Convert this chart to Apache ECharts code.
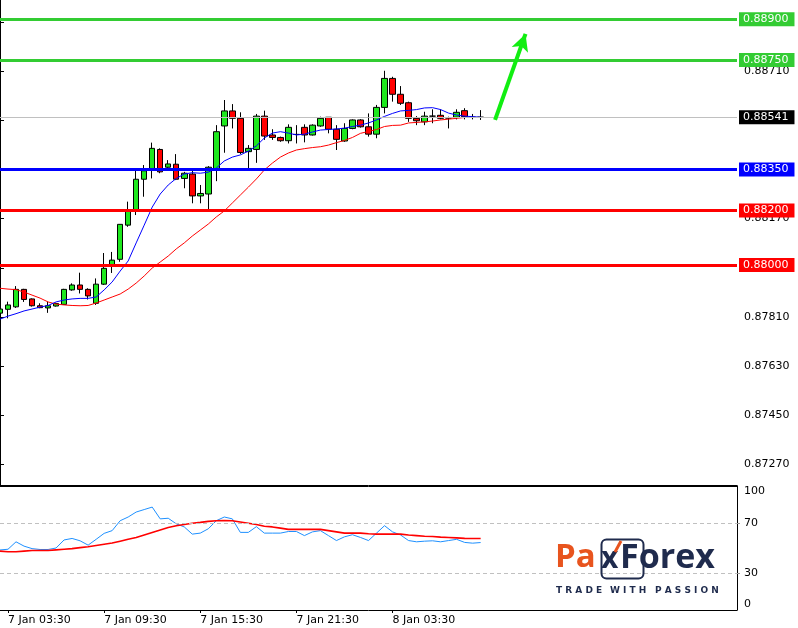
<!DOCTYPE html>
<html><head><meta charset="utf-8">
<script src="https://cdn.jsdelivr.net/npm/echarts@6/dist/echarts.min.js"></script>
<style>html,body{margin:0;padding:0;background:#fff}#c{width:798px;height:628px}</style>
</head><body><div id="c"></div>
<script>
// ---- data ----
const opens  = [0.87824,0.87838,0.87847,0.87911,0.87876,0.87851,0.87843,0.87850,0.87856,0.87909,0.87927,0.87911,0.87860,0.87930,0.87996,0.88021,0.88146,0.88201,0.88314,0.88348,0.88423,0.88358,0.88369,0.88317,0.88333,0.88253,0.88260,0.88348,0.88509,0.88564,0.88537,0.88415,0.88423,0.88545,0.88476,0.88467,0.88455,0.88478,0.88504,0.88476,0.88509,0.88541,0.88497,0.88454,0.88500,0.88531,0.88506,0.88479,0.88577,0.88683,0.88625,0.88594,0.88537,0.88524,0.88545,0.88548,0.88538,0.88541,0.88565,0.88541,0.88541];
const closes = [0.87839,0.87854,0.87911,0.87874,0.87851,0.87844,0.87851,0.87859,0.87911,0.87927,0.87911,0.87887,0.87930,0.87988,0.88018,0.88149,0.88198,0.88314,0.88345,0.88427,0.88341,0.88370,0.88314,0.88336,0.88253,0.88262,0.88358,0.88488,0.88564,0.88537,0.88412,0.88427,0.88545,0.88472,0.88467,0.88455,0.88504,0.88478,0.88476,0.88512,0.88537,0.88497,0.88460,0.88500,0.88531,0.88506,0.88479,0.88577,0.88683,0.88625,0.88592,0.88537,0.88528,0.88545,0.88545,0.88537,0.88538,0.88559,0.88543,0.88541,0.88541];
const lows   = [0.87813,0.87805,0.87843,0.87865,0.87848,0.87842,0.87825,0.87848,0.87854,0.87906,0.87896,0.87874,0.87854,0.87927,0.87971,0.88012,0.88140,0.88183,0.88250,0.88317,0.88336,0.88348,0.88311,0.88281,0.88226,0.88226,0.88201,0.88307,0.88411,0.88500,0.88406,0.88354,0.88374,0.88458,0.88458,0.88451,0.88445,0.88445,0.88449,0.88474,0.88506,0.88482,0.88421,0.88451,0.88497,0.88503,0.88470,0.88464,0.88555,0.88598,0.88586,0.88524,0.88512,0.88512,0.88519,0.88533,0.88500,0.88533,0.88533,0.88533,0.88531];
const highs  = [0.87850,0.87866,0.87923,0.87913,0.87878,0.87860,0.87866,0.87862,0.87913,0.87933,0.87972,0.87915,0.87951,0.88044,0.88048,0.88150,0.88232,0.88348,0.88366,0.88448,0.88427,0.88384,0.88406,0.88341,0.88348,0.88293,0.88362,0.88512,0.88604,0.88589,0.88559,0.88439,0.88553,0.88565,0.88497,0.88470,0.88515,0.88512,0.88515,0.88515,0.88543,0.88541,0.88512,0.88519,0.88533,0.88534,0.88555,0.88586,0.88711,0.88689,0.88655,0.88598,0.88545,0.88561,0.88570,0.88570,0.88543,0.88570,0.88574,0.88553,0.88567];
const maFast = [0.87802,0.87813,0.87822,0.87832,0.87839,0.87846,0.87852,0.87865,0.87872,0.87876,0.87878,0.87878,0.87883,0.87909,0.87938,0.87978,0.88015,0.88081,0.88146,0.88212,0.88260,0.88293,0.88317,0.88333,0.88338,0.88336,0.88340,0.88355,0.88381,0.88395,0.88403,0.88417,0.88436,0.88465,0.88483,0.88488,0.88483,0.88476,0.88479,0.88487,0.88494,0.88496,0.88498,0.88501,0.88507,0.88512,0.88520,0.88531,0.88544,0.88555,0.88564,0.88566,0.88569,0.88575,0.88576,0.88569,0.88556,0.88549,0.88545,0.88543,0.88541];
const maSlow = [0.87915,0.87912,0.87910,0.87901,0.87890,0.87879,0.87865,0.87857,0.87854,0.87852,0.87851,0.87852,0.87861,0.87872,0.87883,0.87894,0.87912,0.87934,0.87960,0.87989,0.88011,0.88033,0.88059,0.88081,0.88106,0.88128,0.88150,0.88176,0.88198,0.88227,0.88256,0.88285,0.88315,0.88348,0.88373,0.88395,0.88410,0.88421,0.88426,0.88430,0.88433,0.88439,0.88448,0.88456,0.88467,0.88482,0.88489,0.88496,0.88507,0.88511,0.88512,0.88520,0.88522,0.88524,0.88527,0.88531,0.88534,0.88537,0.88540,0.88540,0.88540];
const oscMain   = [48.4,49,55,51.5,49.5,48.8,48.8,50,56.5,57.7,55.8,52.3,57,61.8,64,72,75,79,81,83,73.5,74,69.5,67,61.2,62,65.5,72,75,73.5,62.6,62.6,67.2,62,62,62,63.3,63.3,60,63,64,60,56,59,60.7,58.5,56,62,68,63,60.5,56,55,55.5,55.8,55,56,57,54.5,53.9,54.4];
const oscSignal = [47.5,47,47,47.5,48,48,48,48.5,49,49.5,50.3,51,52,53,54,55.5,57,58.5,60.5,62.5,64.5,66.5,68,69,70,70.7,71.5,72,72.1,72,71,70,69,67.5,67,66,65,65,65,65,65,64,63,62,62,62,61.5,61.2,61.2,61.2,61.2,60.5,60,59.5,59.3,58.8,58.5,58.2,57.8,57.7,57.7];
const supportResistance = [0.88900, 0.88750, 0.88350, 0.88200, 0.88000];
const lastPrice = 0.88541;
const priceTicks = [0.8727,0.8745,0.8763,0.8781,0.8799,0.8817,0.8835,0.8853,0.8871,0.8889];
const oscTicks = [0,30,70,100];
const oscLevels = [70, 30];
const timeLabels = ['7 Jan 03:30','7 Jan 09:30','7 Jan 15:30','7 Jan 21:30','8 Jan 03:30'];
const arrowFrom = [61.8, 0.88531];
const arrowTo   = [65.6, 0.88846];

// ---- axis categories (30-minute slots, incl. empty space to the right) ----
const SLOTS = 93;
const categories = [];
for (let k = 0; k < SLOTS; k++) {
  const mins = 3 * 60 + k * 30;
  const day = 7 + Math.floor(mins / 1440);
  const m = mins % 1440;
  const hh = String(Math.floor(m / 60)).padStart(2, '0');
  const mm = String(m % 60).padStart(2, '0');
  categories.push(day + ' Jan ' + hh + ':' + mm);
}
const labelIdx = timeLabels.map(t => categories.indexOf(t));

// ---- styles ----
const FONT = 'DejaVu Sans';
const levelColors = ['#33cc33', '#33cc33', '#0000ff', '#ff0000', '#ff0000'];
const candles = opens.map((o, i) => [o, closes[i], lows[i], highs[i]]);

const levelLines = supportResistance.map((v, i) => ({
  yAxis: v,
  lineStyle: { color: levelColors[i], width: 3, type: 'solid' },
  label: { backgroundColor: levelColors[i] }
}));
levelLines.push({
  yAxis: lastPrice,
  lineStyle: { color: '#c0c0c0', width: 1, type: 'solid' },
  label: { backgroundColor: '#000000' }
});

const chart = echarts.init(document.getElementById('c'), null, { renderer: 'canvas' });
chart.setOption({
  animation: false,
  backgroundColor: '#ffffff',
  textStyle: { fontFamily: FONT },
  grid: [
    { left: 0, right: 61, top: 0, height: 485 },
    { left: 0, right: 61, top: 486, height: 124 }
  ],
  xAxis: [
    { type: 'category', gridIndex: 0, data: categories, boundaryGap: false,
      axisLine: { show: true, lineStyle: { color: '#000', width: 1 } },
      axisTick: { show: false }, axisLabel: { show: false }, splitLine: { show: false } },
    { type: 'value', gridIndex: 0, min: 0, max: SLOTS - 1, show: false },
    { type: 'category', gridIndex: 1, data: categories, boundaryGap: false, position: 'bottom',
      axisLine: { show: true, lineStyle: { color: '#000', width: 1 } },
      axisTick: { show: true, length: 3, lineStyle: { color: '#000' }, interval: (i) => labelIdx.includes(i) },
      axisLabel: { show: true, interval: (i) => labelIdx.includes(i), align: 'left', margin: 5,
        color: '#000', fontSize: 11, fontFamily: FONT },
      splitLine: { show: false } },
    { type: 'category', gridIndex: 1, data: categories, boundaryGap: false, position: 'top',
      axisLine: { show: true, lineStyle: { color: '#000', width: 1 } },
      axisTick: { show: false }, axisLabel: { show: false }, splitLine: { show: false } }
  ],
  yAxis: [
    { type: 'value', gridIndex: 0, position: 'right', min: 0.87195, max: 0.8897, scale: true,
      axisLine: { show: true, lineStyle: { color: '#000', width: 1 } },
      axisTick: { show: true, length: 4, customValues: priceTicks, lineStyle: { color: '#000' } },
      axisLabel: { show: true, customValues: priceTicks, formatter: v => v.toFixed(5), margin: 7,
        color: '#000', fontSize: 11, fontFamily: FONT },
      splitLine: { show: false } },
    { type: 'value', gridIndex: 1, position: 'right', min: 0, max: 100,
      axisLine: { show: true, lineStyle: { color: '#000', width: 1 } },
      axisTick: { show: true, length: 3, customValues: oscLevels, lineStyle: { color: '#999' } },
      axisLabel: { show: true, customValues: oscTicks, margin: 7, color: '#000', fontSize: 11, fontFamily: FONT,
        verticalAlignMaxLabel: 'top', verticalAlignMinLabel: 'bottom' },
      splitLine: { show: false } }
  ],
  series: [
    { type: 'candlestick', xAxisIndex: 0, yAxisIndex: 0, data: candles, barWidth: 6, z: 2,
      itemStyle: { color: '#1ee81e', color0: '#ff0000', borderColor: '#000', borderColor0: '#000',
        borderColorDoji: '#000', borderWidth: 1 } },
    { type: 'line', xAxisIndex: 0, yAxisIndex: 0, data: maSlow, symbol: 'none', z: 3,
      lineStyle: { color: '#ff0000', width: 1 },
      markLine: { silent: true, symbol: 'none', animation: false, precision: 5,
        label: { show: true, position: 'end', distance: 2, formatter: p => Number(p.value).toFixed(5),
          color: '#fff', fontSize: 11, fontFamily: FONT, padding: [2, 6, 1, 4] },
        data: levelLines } },
    { type: 'line', xAxisIndex: 0, yAxisIndex: 0, data: maFast, symbol: 'none', z: 4,
      lineStyle: { color: '#0000ff', width: 1 } },
    { type: 'line', xAxisIndex: 1, yAxisIndex: 0, data: [arrowFrom, arrowTo], symbol: 'none', z: 5,
      lineStyle: { width: 0, opacity: 0 },
      markLine: { silent: true, symbol: ['none', 'arrow'], symbolSize: [13, 17], animation: false,
        label: { show: false },
        lineStyle: { color: '#11ee11', width: 4, type: 'solid' },
        data: [[{ coord: arrowFrom }, { coord: arrowTo }]] } },
    { type: 'line', xAxisIndex: 2, yAxisIndex: 1, data: oscMain, symbol: 'none', z: 3,
      lineStyle: { color: '#1e90ff', width: 1 } },
    { type: 'line', xAxisIndex: 2, yAxisIndex: 1, data: oscSignal, symbol: 'none', z: 3,
      lineStyle: { color: '#ff0000', width: 1.6 },
      markLine: { silent: true, symbol: 'none', animation: false, label: { show: false },
        lineStyle: { color: '#c0c0c0', width: 1, type: [4, 3] },
        data: oscLevels.map(v => ({ yAxis: v })) } }
  ],
  graphic: [
    { type: 'text', left: 555, top: 541, z: 10, style: { text: 'Pa', fill: '#e8541e', font: 'bold 33px "Open Sans"' } },
    { type: 'rect', left: 599, top: 537, z: 10, shape: { width: 42, height: 39, r: 5 },
      style: { fill: 'none', stroke: '#1f2b4d', lineWidth: 2 } },
    { type: 'text', left: 601, top: 544, z: 10, style: { text: 'x', fill: '#1f2b4d', font: 'bold 30px "Open Sans"' } },
    { type: 'line', z: 11, shape: { x1: 621, y1: 541, x2: 615, y2: 552 }, style: { stroke: '#e8541e', lineWidth: 3 } },
    { type: 'text', left: 620, top: 541, z: 10, style: { text: 'Forex', fill: '#1f2b4d', font: 'bold 34px "Open Sans"' } },
    { type: 'text', left: 556, top: 586, z: 10, style: { text: 'T R A D E', fill: '#1f2b4d', font: 'bold 9px "DejaVu Sans"' } },
    { type: 'text', left: 610, top: 586, z: 10, style: { text: 'W I T H', fill: '#1f2b4d', font: 'bold 9px "DejaVu Sans"' } },
    { type: 'text', left: 655, top: 586, z: 10, style: { text: 'P A S S I O N', fill: '#1f2b4d', font: 'bold 9px "DejaVu Sans"' } }
  ]
});
</script>
</body></html>
